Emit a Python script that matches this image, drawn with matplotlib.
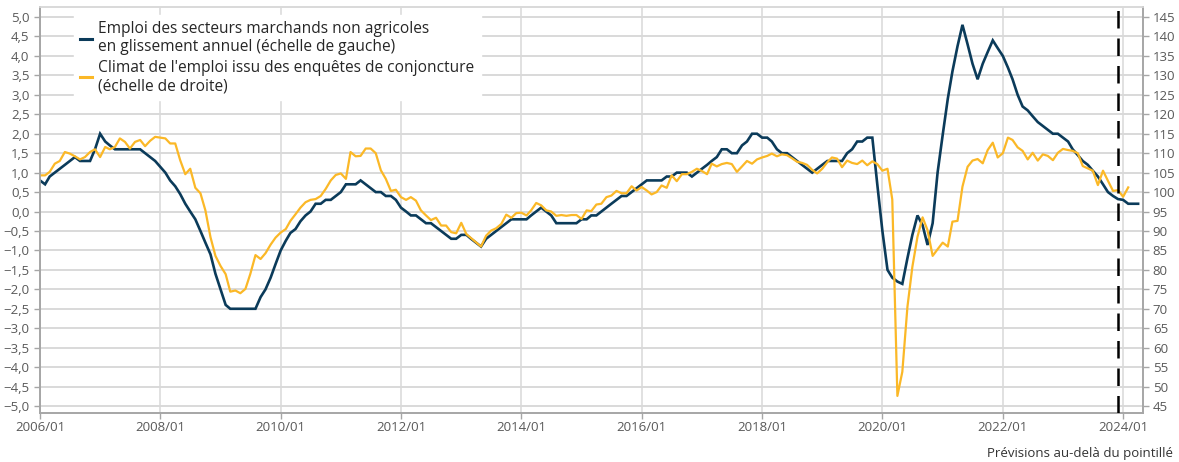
import matplotlib
matplotlib.use("Agg")
import matplotlib.pyplot as plt
import matplotlib.dates as mdates
import matplotlib.ticker as mticker
import pandas as pd

plt.rcParams['font.family'] = ['Open Sans', 'DejaVu Sans']

# Emploi marchand non agricole, glissement annuel (%), mensuel depuis 2006/01
emploi = [
    0.8, 0.7, 0.9, 1.0, 1.1, 1.2, 1.3, 1.4, 1.3, 1.3, 1.3, 1.6,
    2.0, 1.8, 1.7, 1.6, 1.6, 1.6, 1.6, 1.6, 1.6, 1.5, 1.4, 1.3,
    1.15, 1.0, 0.8, 0.65, 0.45, 0.2, 0.0, -0.2, -0.5, -0.8, -1.1, -1.6,
    -2.0, -2.4, -2.5, -2.5, -2.5, -2.5, -2.5, -2.5, -2.2, -2.0, -1.7, -1.35,
    -1.0, -0.75, -0.55, -0.45, -0.25, -0.1, 0.0, 0.2, 0.2, 0.3, 0.3, 0.4,
    0.5, 0.7, 0.7, 0.7, 0.8, 0.7, 0.6, 0.5, 0.5, 0.4, 0.4, 0.3,
    0.1, 0.0, -0.1, -0.1, -0.2, -0.3, -0.3, -0.4, -0.5, -0.6, -0.7, -0.7,
    -0.6, -0.6, -0.7, -0.8, -0.9, -0.7, -0.6, -0.5, -0.4, -0.3, -0.2, -0.2,
    -0.2, -0.2, -0.1, 0.0, 0.1, 0.0, -0.1, -0.3, -0.3, -0.3, -0.3, -0.3,
    -0.2, -0.2, -0.1, -0.1, 0.0, 0.1, 0.2, 0.3, 0.4, 0.4, 0.5, 0.6,
    0.7, 0.8, 0.8, 0.8, 0.8, 0.9, 0.9, 1.0, 1.0, 1.0, 0.9, 1.0,
    1.1, 1.2, 1.3, 1.4, 1.6, 1.6, 1.5, 1.5, 1.7, 1.8, 2.0, 2.0,
    1.9, 1.9, 1.8, 1.6, 1.5, 1.5, 1.4, 1.3, 1.2, 1.1, 1.0, 1.1,
    1.2, 1.3, 1.3, 1.3, 1.3, 1.5, 1.6, 1.8, 1.8, 1.9, 1.9, 0.7,
    -0.5, -1.5, -1.7, -1.8, -1.86, -1.2, -0.6, -0.1, -0.35, -0.86, -0.3, 1.0,
    1.97, 2.9, 3.6, 4.25, 4.8, 4.3, 3.8, 3.4, 3.8, 4.1, 4.4, 4.2,
    4.0, 3.7, 3.4, 3.0, 2.7, 2.6, 2.45, 2.3, 2.2, 2.1, 2.0, 2.0,
    1.9, 1.8, 1.6, 1.45, 1.3, 1.2, 1.05, 0.9, 0.7, 0.5, 0.4, 0.32,
    0.3, 0.2, 0.2, 0.2,
]

# Climat de l'emploi (enquetes de conjoncture), mensuel depuis 2006/01
climat = [
    104.3, 104.3, 105.2, 107.3, 108.0, 110.3, 109.9, 109.2, 108.4, 109.0, 110.3, 111.0,
    109.0, 111.6, 111.0, 111.6, 113.8, 112.9, 111.2, 112.9, 113.4, 111.8, 113.2, 114.2,
    114.0, 113.8, 112.5, 112.5, 108.2, 104.6, 106.0, 101.1, 99.7, 95.3, 88.4, 83.6,
    81.0, 78.9, 74.4, 74.7, 74.0, 75.1, 79.0, 83.8, 82.8, 84.3, 86.5, 88.3,
    89.6, 90.5, 92.6, 94.3, 96.0, 97.4, 98.0, 98.2, 99.0, 100.8, 103.0, 104.4,
    104.8, 103.4, 110.3, 109.2, 109.3, 111.2, 111.2, 110.0, 105.6, 103.4, 100.3, 100.6,
    98.7, 98.0, 98.7, 97.8, 95.3, 94.0, 92.8, 93.4, 91.4, 91.4, 89.7, 89.4,
    92.1, 89.2, 88.2, 87.1, 86.0, 88.8, 90.1, 90.7, 91.8, 94.2, 93.4, 94.6,
    94.7, 94.0, 95.3, 97.2, 96.6, 95.3, 95.0, 93.9, 94.1, 93.9, 94.1, 94.1,
    93.1, 95.3, 95.1, 96.8, 97.0, 98.7, 99.1, 100.3, 99.7, 99.7, 101.5, 100.4,
    101.3, 100.4, 99.4, 100.0, 101.7, 101.1, 104.3, 102.8, 104.6, 104.6, 105.2, 106.0,
    105.4, 104.6, 107.3, 106.6, 107.2, 107.5, 107.2, 105.2, 106.6, 108.0, 107.3, 108.4,
    108.9, 109.3, 109.9, 109.2, 109.7, 109.5, 108.7, 107.8, 107.5, 107.0, 105.7, 104.8,
    106.0, 107.7, 108.9, 108.6, 106.4, 108.1, 107.5, 107.2, 108.1, 106.9, 107.9, 107.2,
    105.5, 106.0, 98.1, 47.6, 53.8, 70.5, 80.8, 88.5, 93.5, 90.2, 83.6, 85.3,
    87.0, 86.0, 92.4, 92.6, 101.4, 106.5, 108.1, 108.5, 107.4, 110.8, 112.7, 108.9,
    110.0, 114.0, 113.4, 111.5, 110.6, 108.4, 110.1, 108.1, 109.7, 109.3, 108.2, 110.1,
    111.1, 110.8, 110.6, 110.0, 106.7, 106.1, 105.5, 101.8, 105.5, 102.9, 100.3, 100.5,
    98.8, 101.2,
]

label_emploi = "Emploi des secteurs marchands non agricoles\nen glissement annuel (échelle de gauche)"
label_climat = "Climat de l'emploi issu des enquêtes de conjoncture\n(échelle de droite)"
note = "Prévisions au-delà du pointillé"

dates_emploi = pd.date_range("2006-01-01", periods=len(emploi), freq="MS")
dates_climat = pd.date_range("2006-01-01", periods=len(climat), freq="MS")
debut_prevision = pd.Timestamp("2023-12-01")

blue = "#0b3b5a"
yellow = "#fbb827"
grid_col = "#d9d9d9"
axis_col = "#a6a6a6"
tick_col = "#595959"

fig = plt.figure(figsize=(11.79, 4.62), dpi=100)
ax = fig.add_axes([0.0339, 0.106, 0.9356, 0.879])
ax2 = ax.twinx()

ax.set_ylim(-5.18, 5.26)
ax2.set_ylim(43.2, 147.6)
ax.set_xlim(pd.Timestamp("2006-01-01"), pd.Timestamp("2024-05-01"))

# grille
for v in [i * 0.5 for i in range(-10, 11)]:
    ax.axhline(v, color=grid_col, lw=1.4, zorder=0)
ax.xaxis.set_major_locator(mdates.YearLocator(2, month=1, day=1))
ax.xaxis.set_major_formatter(mdates.DateFormatter("%Y/%m"))
ax.grid(axis="x", color=grid_col, lw=1.1, zorder=0)

ax.plot(dates_emploi, emploi, color=blue, lw=1.9, zorder=3, solid_joinstyle="miter")
ax2.plot(dates_climat, climat, color=yellow, lw=1.6, zorder=2)
ax2.plot([], [], color=blue, lw=2.2, label=label_emploi)
ax2.plot([], [], color=yellow, lw=2.2, label=label_climat)

ax2.axvline(debut_prevision, color="black", lw=1.8, dashes=(7, 4), zorder=4)

ax.yaxis.set_major_locator(mticker.MultipleLocator(0.5))
ax.yaxis.set_major_formatter(
    mticker.FuncFormatter(lambda v, p: f"{v:.1f}".replace(".", ",").replace("-", "\u2212")))
ax2.yaxis.set_major_locator(mticker.MultipleLocator(5))

for a in (ax, ax2):
    for s in a.spines.values():
        s.set_color(axis_col)
        s.set_linewidth(1.2)
    a.spines["top"].set_color(grid_col)
    a.tick_params(colors=axis_col, labelcolor=tick_col, labelsize=9.5, length=4, width=1)
ax.tick_params(axis="x", pad=2)
ax2.tick_params(axis="y", pad=3)

leg = ax2.legend(loc="upper left", bbox_to_anchor=(0.024, 1.0), fontsize=11.2,
                 frameon=True, fancybox=False, handlelength=0.75, handletextpad=0.4,
                 labelspacing=0.28, borderpad=0.4, labelcolor="#262626")
leg.get_frame().set_facecolor("white")
leg.get_frame().set_edgecolor("white")
leg.get_frame().set_alpha(1)
leg.set_zorder(10)

fig.text(0.9945, 0.004, note, ha="right", va="bottom", fontsize=9.5, color="#333333")

fig.savefig("out.png", dpi=100)
